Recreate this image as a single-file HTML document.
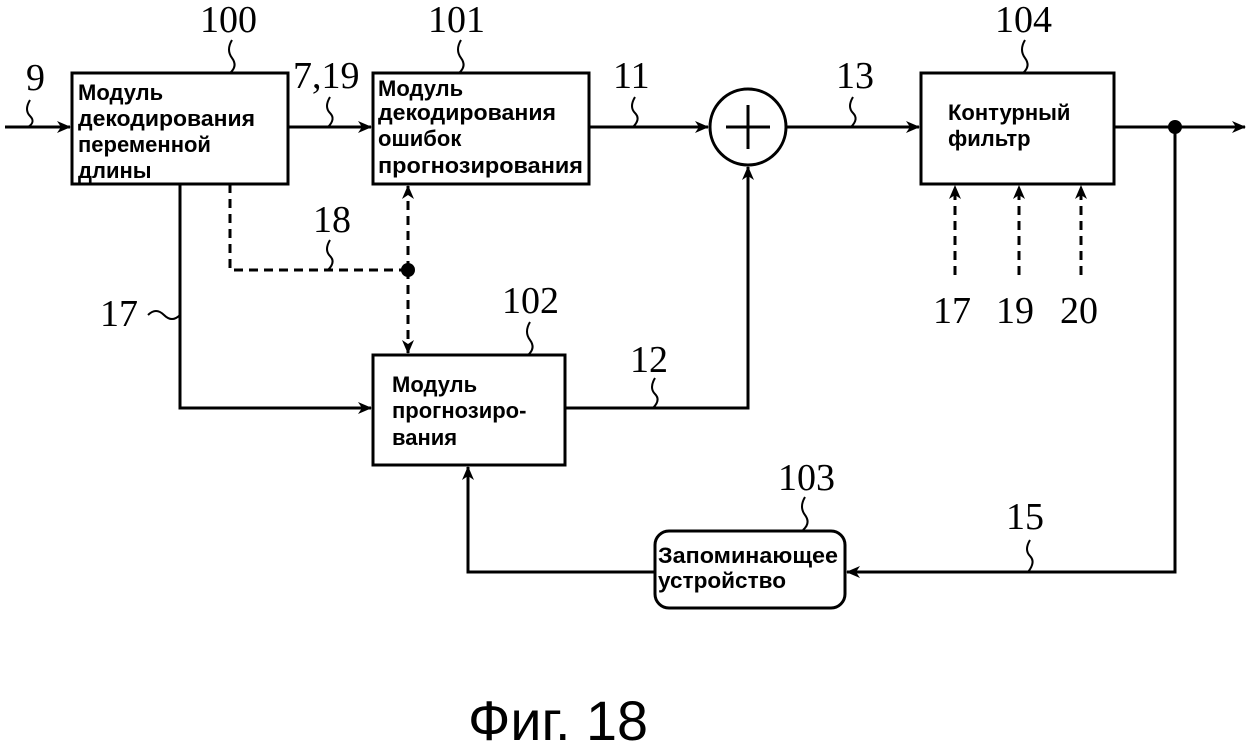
<!DOCTYPE html>
<html><head><meta charset="utf-8"><style>
html,body{margin:0;padding:0;background:#fff;}
svg{display:block}
.n{font-family:"Liberation Serif",serif;font-size:38px;fill:#000}
.t{font-family:"Liberation Sans",sans-serif;font-weight:bold;font-size:22px;fill:#000}
</style></head><body>
<svg width="1250" height="749" viewBox="0 0 1250 749" xmlns="http://www.w3.org/2000/svg">
<defs>
<marker id="a" markerWidth="14" markerHeight="12" refX="13" refY="6" orient="auto" markerUnits="userSpaceOnUse">
<path d="M0,0 L14,6 L0,12 L4,6 Z" fill="#000"/></marker>
</defs>
<g fill="none" stroke="#000" stroke-width="3">
<rect x="72" y="73" width="216" height="111"/>
<rect x="373" y="73" width="216" height="111"/>
<rect x="921" y="73" width="193" height="111"/>
<rect x="373" y="355" width="192" height="110"/>
<rect x="655" y="531" width="190" height="77" rx="14"/>
<circle cx="748" cy="127" r="38"/>
<line x1="726" y1="127" x2="770" y2="127"/><line x1="748" y1="105" x2="748" y2="149"/>
<line x1="5" y1="127" x2="70" y2="127" marker-end="url(#a)"/>
<line x1="288" y1="127" x2="371" y2="127" marker-end="url(#a)"/>
<line x1="589" y1="127" x2="708" y2="127" marker-end="url(#a)"/>
<line x1="786" y1="127" x2="919" y2="127" marker-end="url(#a)"/>
<line x1="1114" y1="127" x2="1245" y2="127" marker-end="url(#a)"/>
<polyline points="1175,127 1175,572 847,572" marker-end="url(#a)"/>
<polyline points="655,572 468,572 468,467" marker-end="url(#a)"/>
<polyline points="180,184 180,408 371,408" marker-end="url(#a)"/>
<polyline points="565,408 748,408 748,167" marker-end="url(#a)"/>
</g>
<g fill="none" stroke="#000" stroke-width="3" stroke-dasharray="9,6">
<polyline points="230,184 230,270 408,270"/>
<line x1="408" y1="270" x2="408" y2="186" marker-end="url(#a)"/>
<line x1="408" y1="270" x2="408" y2="353" marker-end="url(#a)"/>
<line x1="955" y1="275" x2="955" y2="186" marker-end="url(#a)"/>
<line x1="1019" y1="275" x2="1019" y2="186" marker-end="url(#a)"/>
<line x1="1081" y1="275" x2="1081" y2="186" marker-end="url(#a)"/>
</g>
<circle cx="408" cy="270" r="7" fill="#000"/>
<circle cx="1175" cy="127" r="7" fill="#000"/>
<g fill="none" stroke="#000" stroke-width="2">
<path d="M232,40 q-6,10 0,18 q6,8 -2,15"/>
<path d="M461,40 q-6,10 0,18 q6,8 -2,15"/>
<path d="M1025,40 q-6,10 0,18 q6,8 -2,15"/>
<path d="M30,100 q-6,10 0,16 q6,6 -2,11"/>
<path d="M330,97 q-6,10 0,16 q6,6 -2,14"/>
<path d="M635,97 q-6,10 0,16 q6,6 -2,14"/>
<path d="M853,97 q-6,10 0,16 q6,6 -2,14"/>
<path d="M330,240 q-6,10 0,16 q6,6 -2,14"/>
<path d="M148,315 q8,-8 16,0 q8,8 16,0"/>
<path d="M530,322 q-6,10 0,18 q6,8 -2,15"/>
<path d="M655,378 q-6,10 0,16 q6,6 -2,14"/>
<path d="M805,497 q-6,10 0,18 q6,8 -2,15"/>
<path d="M1030,540 q-6,10 0,16 q6,6 -2,16"/>
</g>
<text class="n" x="200" y="32">100</text>
<text class="n" x="428" y="32">101</text>
<text class="n" x="995" y="32">104</text>
<text class="n" x="26" y="90">9</text>
<text class="n" x="293" y="88">7,19</text>
<text class="n" x="613" y="88">11</text>
<text class="n" x="836" y="88">13</text>
<text class="n" x="313" y="232">18</text>
<text class="n" x="100" y="326">17</text>
<text class="n" x="502" y="313">102</text>
<text class="n" x="630" y="372">12</text>
<text class="n" x="778" y="490">103</text>
<text class="n" x="1006" y="529">15</text>
<text class="n" x="933" y="323">17</text>
<text class="n" x="996" y="323">19</text>
<text class="n" x="1060" y="323">20</text>
<text class="t" x="78" y="100">Модуль</text>
<text class="t" x="78" y="126" textLength="177" lengthAdjust="spacingAndGlyphs">декодирования</text>
<text class="t" x="78" y="152">переменной</text>
<text class="t" x="78" y="178">длины</text>
<text class="t" x="378" y="96">Модуль</text>
<text class="t" x="378" y="120" textLength="178" lengthAdjust="spacingAndGlyphs">декодирования</text>
<text class="t" x="378" y="146">ошибок</text>
<text class="t" x="378" y="173" textLength="205" lengthAdjust="spacingAndGlyphs">прогнозирования</text>
<text class="t" x="948" y="120">Контурный</text>
<text class="t" x="948" y="146">фильтр</text>
<text class="t" x="392" y="392" font-size="21">Модуль</text>
<text class="t" x="392" y="418" font-size="21">прогнозиро-</text>
<text class="t" x="392" y="445" font-size="21">вания</text>
<text class="t" x="658" y="563" textLength="180" lengthAdjust="spacingAndGlyphs">Запоминающее</text>
<text class="t" x="658" y="588" textLength="128" lengthAdjust="spacingAndGlyphs">устройство</text>
<text x="468" y="740" font-family="Liberation Sans, sans-serif" font-size="56" textLength="180" lengthAdjust="spacingAndGlyphs">Фиг. 18</text>
</svg>
</body></html>
